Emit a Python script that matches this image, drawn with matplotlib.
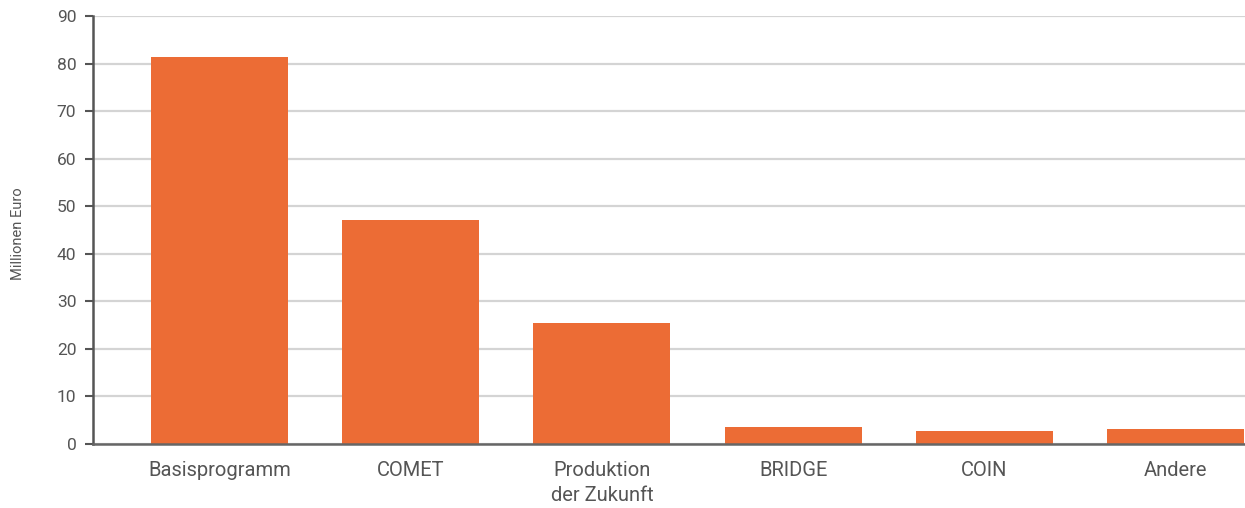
import matplotlib
matplotlib.use('Agg')
import matplotlib.pyplot as plt

categories = ['Basisprogramm', 'COMET', 'Produktion\nder Zukunft', 'BRIDGE', 'COIN', 'Andere']
values = [81.4, 47.1, 25.4, 3.6, 2.7, 3.15]
yticks = [0, 10, 20, 30, 40, 50, 60, 70, 80, 90]

plt.rcParams['font.family'] = ['Roboto', 'DejaVu Sans']
textcolor = '#555555'

fig = plt.figure(figsize=(12.45, 5.08), dpi=100)
ax = fig.add_axes([93/1245, 1-444/508, 1-93/1245, 428/508])

x = list(range(len(categories)))
ax.bar(x, values, width=0.717, color='#ec6c35', zorder=3)

ax.set_xlim(-0.662, 5.364)
ax.set_ylim(0, 90)
ax.set_yticks(yticks)
ax.set_xticks(x)
ax.set_xticklabels(categories, fontsize=14.5, color=textcolor, linespacing=1.45)
ax.tick_params(axis='x', length=0, pad=12)
ax.tick_params(axis='y', length=6, width=1.5, color='#555555', labelsize=12.5,
               labelcolor=textcolor, pad=6)
ax.yaxis.grid(True, color='#d4d4d4', linewidth=1.6, zorder=0)
ax.set_axisbelow(True)

for s in ['top', 'right']:
    ax.spines[s].set_visible(False)
ax.spines['left'].set_color('#555555')
ax.spines['left'].set_linewidth(1.8)
ax.spines['bottom'].set_color('#666666')
ax.spines['bottom'].set_linewidth(1.8)
ax.spines['bottom'].set_zorder(4)

fig.text(18/1245, 1-234/508, 'Millionen Euro', rotation=90, fontsize=10.5,
         color=textcolor, ha='center', va='center')

fig.savefig('out.png', dpi=100)
